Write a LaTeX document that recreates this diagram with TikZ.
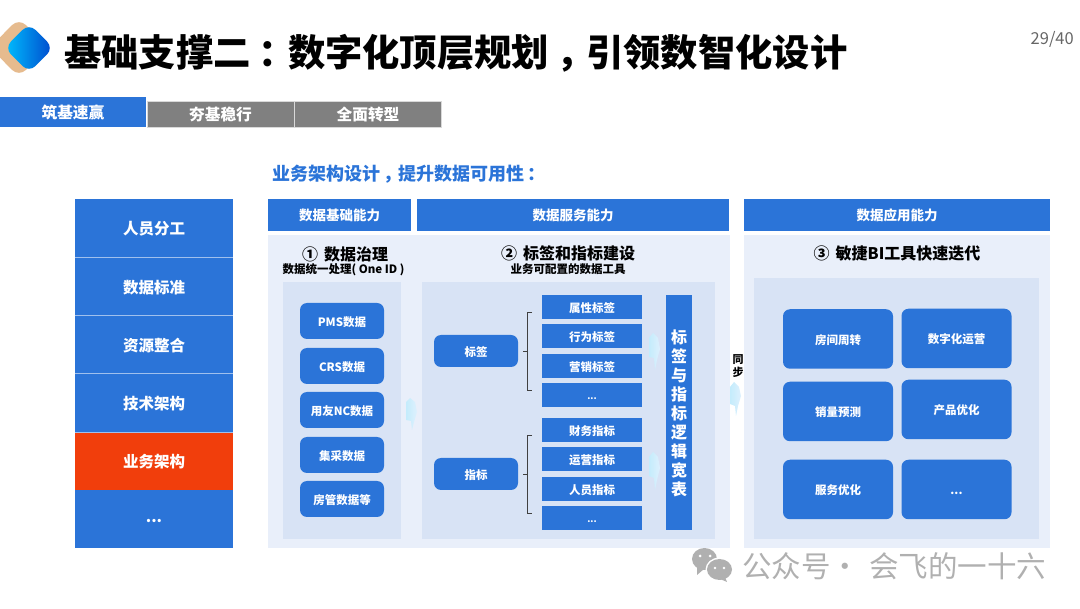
\documentclass[tikz,border=0pt]{standalone}
\usepackage{fontspec}
\setmainfont{Noto Sans CJK SC}
\usepackage{tikz}
\usetikzlibrary{shapes, arrows.meta, positioning, calc}
\definecolor{slideblue}{RGB}{43, 116, 216}
\definecolor{slidered}{RGB}{241, 62, 12}
\definecolor{slidegray}{RGB}{128, 128, 128}
\definecolor{panelpale}{RGB}{233, 239, 250}
\definecolor{panelmid}{RGB}{216, 227, 245}
\definecolor{marktan}{RGB}{230, 187, 142}
\definecolor{markgray}{RGB}{176, 176, 176}
\definecolor{flowcyan}{RGB}{196, 236, 252}
\definecolor{flowpale}{RGB}{222, 240, 253}
\newcommand{\txt}[1]{\fontsize{#1}{#1}\selectfont}
\newcommand{\midpt}[1]{\kern.2em#1\kern-.2em}
\tikzset{
  lowtext/.style={text height=#1*1pt, text depth=#1*.12pt, font=\bfseries\txt{#1}},
  panelbox/.style={fill=panelpale, draw=none},
  innerbox/.style={fill=panelmid, draw=none},
  headbox/.style={fill=slideblue, draw=none, text=white, inner sep=0pt, lowtext=13.5},
  tabbox/.style={fill=slidegray, draw=white!70!slidegray, line width=0.3pt, text=white, inner sep=0pt, minimum width=147pt, minimum height=26pt, lowtext=15.7},
  sidebox/.style={fill=slideblue, draw=none, text=white, inner sep=0pt, minimum width=158pt, minimum height=58.2pt, lowtext=15.5},
  sideline/.style={draw=white!55!slideblue, line width=0.5pt},
  roundbox/.style={fill=slideblue, draw=none, rounded corners=7pt, text=white, inner sep=0pt, lowtext=11.5},
  datarow/.style={roundbox, minimum width=84pt, minimum height=36pt},
  tagkind/.style={roundbox, minimum width=84pt, minimum height=32pt},
  tagrow/.style={fill=slideblue, draw=none, text=white, inner sep=0pt, minimum width=100pt, minimum height=24pt, lowtext=11.5},
  widerow/.style={fill=slideblue, draw=none, text=white, inner sep=0pt, minimum width=26pt, minimum height=235pt, align=center, font=\bfseries\fontsize{16}{19}\selectfont},
  appbox/.style={roundbox, minimum width=110pt, minimum height=59.5pt},
  sectitle/.style={inner sep=0pt, font=\bfseries\txt{16}},
  secnote/.style={inner sep=0pt, font=\bfseries\txt{11.5}},
  flowmark/.style={left color=flowcyan, right color=flowpale, draw=none},
  bracket/.style={draw=black!75, line width=0.7pt}
}
\begin{document}
\begin{tikzpicture}[x=1pt, y=-1pt]
  \useasboundingbox (0,0) rectangle (1080,609);

  % logo and title
  \fill[marktan, rounded corners=10pt] (19,18) -- (48,47.5) -- (19,77) -- (-10,47.5) -- cycle;
  \shade[left color=cyan!75!blue, right color=blue!65!cyan!80!black, rounded corners=9pt] (29,23.5) -- (53.5,48) -- (29,72.5) -- (4.5,48) -- cycle;
  \node[anchor=west, inner sep=0pt, font=\bfseries\txt{37.3}] (title) at (64,53.5) {基础支撑二\midpt{：}数字化顶层规划\midpt{，}引领数智化设计};
  \node[anchor=east, inner sep=0pt, text=black!60, font=\txt{16.5}] (pageno) at (1074,39) {29/40};

  % tabs
  \node[tabbox, fill=slideblue, draw=none, minimum width=146pt, minimum height=30pt] (tabA) at (73,112) {筑基速赢};
  \node[tabbox] (tabB) at (220.5,114) {夯基稳行};
  \node[tabbox] (tabC) at (368,114) {全面转型};

  \node[anchor=west, inner sep=0pt, text=slideblue, font=\bfseries\txt{18}] (subtitle) at (272,174.5) {业务架构设计\midpt{，}提升数据可用性\midpt{：}};

  % left column
  \node[sidebox] (sideA) at (154,228) {人员分工};
  \node[sidebox] (sideB) at (154,286.2) {数据标准};
  \node[sidebox] (sideC) at (154,344.4) {资源整合};
  \node[sidebox] (sideD) at (154,402.6) {技术架构};
  \node[sidebox, fill=slidered] (sideE) at (154,461) {业务架构};
  \node[sidebox] (sideF) at (154,519) {\raisebox{3pt}{...}};
  \draw[sideline] (sideA.south west) -- (sideA.south east);
  \draw[sideline] (sideB.south west) -- (sideB.south east);
  \draw[sideline] (sideC.south west) -- (sideC.south east);
  \draw[sideline] (sideD.south west) -- (sideD.south east);

  % headers and panels
  \node[headbox, minimum width=143pt, minimum height=32pt] (headA) at (339.5,215) {数据基础能力};
  \node[headbox, minimum width=312pt, minimum height=32pt] (headB) at (573,215) {数据服务能力};
  \node[headbox, minimum width=306pt, minimum height=32pt] (headC) at (897,215) {数据应用能力};
  \fill[panelbox] (268,235) rectangle (730,548);
  \fill[panelbox] (744,235) rectangle (1050,548);
  \fill[innerbox] (283,282) rectangle (401,539);
  \fill[innerbox] (422,282) rectangle (715,539);
  \fill[innerbox] (754,278) rectangle (1039,539);

  \node[sectitle] (titleA) at (345,254) {①\hspace{6pt}数据治理};
  \node[secnote] (noteA) at (343.5,270) {数据统一处理( One ID )};
  \node[sectitle] (titleB) at (568,253) {②\hspace{6pt}标签和指标建设};
  \node[secnote] (noteB) at (568,269) {业务可配置的数据工具};
  \node[sectitle] (titleC) at (897,253) {③\hspace{6pt}敏捷BI工具快速迭代};

  % data sources
  \node[datarow] (pms) at (342,321) {PMS数据};
  \node[datarow] (crs) at (342,366) {CRS数据};
  \node[datarow] (nc) at (342,410) {用友NC数据};
  \node[datarow] (buy) at (342,455) {集采数据};
  \node[datarow] (room) at (342,499) {房管数据等};

  % tags and indicators
  \node[tagkind] (tags) at (476,351) {标签};
  \node[tagkind] (kpis) at (476,474) {指标};
  \node[tagrow] (tagA) at (592,307) {属性标签};
  \node[tagrow] (tagB) at (592,336.5) {行为标签};
  \node[tagrow] (tagC) at (592,366) {营销标签};
  \node[tagrow, lowtext=9] (tagD) at (592,395.5) {...};
  \node[tagrow] (kpiA) at (592,430) {财务指标};
  \node[tagrow] (kpiB) at (592,459.5) {运营指标};
  \node[tagrow] (kpiC) at (592,489) {人员指标};
  \node[tagrow, lowtext=9] (kpiD) at (592,518.5) {...};
  \node[widerow] (wide) at (679,413) {标\\签\\与\\指\\标\\逻\\辑\\宽\\表};

  % brackets
  \coordinate (braceA) at (527,351);
  \coordinate (braceB) at (527,474);
  \draw[bracket] ($(braceA)+(5,-39)$) -- ($(braceA)+(0,-39)$) -- ($(braceA)+(0,39)$) -- ($(braceA)+(5,39)$);
  \draw[bracket] ($(braceA)+(-4,0)$) -- (braceA);
  \draw[bracket] ($(braceB)+(5,-39)$) -- ($(braceB)+(0,-39)$) -- ($(braceB)+(0,39)$) -- ($(braceB)+(5,39)$);
  \draw[bracket] ($(braceB)+(-4,0)$) -- (braceB);

  % pale flow marks
  \shade[flowmark] (410,398) -- (415,402) -- (417,412) -- (414,422) -- (412,430) -- (411,421) -- (406,420) -- (406,402) -- cycle;
  \shade[flowmark] (653,333) -- (658,338) -- (660,349) -- (657,360) -- (655,370) -- (654,358) -- (649,357) -- (649,338) -- cycle;
  \shade[flowmark] (653,452) -- (658,457) -- (660,468) -- (657,480) -- (655,490) -- (654,478) -- (649,476) -- (649,457) -- cycle;
  \shade[flowmark] (734,382) -- (739,387) -- (741,396) -- (738,406) -- (736,416) -- (735,406) -- (730,404) -- (730,387) -- cycle;
  \node[inner sep=0pt, align=center, font=\bfseries\fontsize{11}{13}\selectfont] (sync) at (738,366) {同\\步};

  % applications
  \node[appbox] (turn) at (838,339) {房间周转};
  \node[appbox] (ops) at (956.5,338.5) {数字化运营};
  \node[appbox] (sales) at (838,411.5) {销量预测};
  \node[appbox] (prod) at (956.5,409.5) {产品优化};
  \node[appbox] (serv) at (838,489.5) {服务优化};
  \node[appbox] (more) at (956.5,489.5) {...};

  % watermark
  \fill[markgray] (704.5,559) ellipse (12.5pt and 11pt);
  \fill[markgray] (697,566) -- (697,575) -- (704,569) -- cycle;
  \fill[white] (719.5,569.5) ellipse (14pt and 12pt);
  \fill[markgray] (719.5,569.5) ellipse (12.5pt and 10.5pt);
  \fill[markgray] (725,577) -- (727,582) -- (720,579) -- cycle;
  \fill[white] (700,556) circle (1.5pt) (710,556) circle (1.5pt) (715,568) circle (1.4pt) (724,568) circle (1.4pt);
  \node[anchor=west, inner sep=0pt, text=markgray, font=\txt{29.5}] (brand) at (742,566) {公众号·\hspace{9pt}会飞的一十六};
\end{tikzpicture}
\end{document}
